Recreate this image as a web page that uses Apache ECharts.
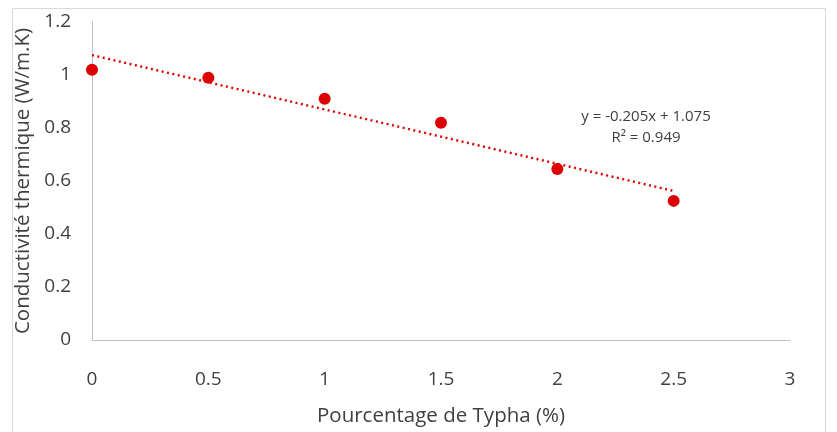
<!DOCTYPE html>
<html><head><meta charset="utf-8">
<script src="https://cdn.jsdelivr.net/npm/echarts@6/dist/echarts.min.js"></script>
<style>html,body{margin:0;padding:0;background:#fff}#c{width:837px;height:432px}</style>
</head><body><div id="c"></div>
<script>
const xValues = [0, 0.5, 1, 1.5, 2, 2.5];
const yValues = [1.02, 0.99, 0.91, 0.82, 0.645, 0.525];
const slope = -0.205;
const intercept = 1.075;
const equationText = 'y = -0.205x + 1.075';
const r2Text = 'R² = 0.949';
const xTitle = 'Pourcentage de Typha (%)';
const yTitle = 'Conductivité thermique (W/m.K)';

const pts = xValues.map((x, i) => [x, yValues[i]]);
const trend = [[xValues[0], intercept + slope * xValues[0]], [xValues[xValues.length - 1], intercept + slope * xValues[xValues.length - 1]]];
const font = 'Open Sans';
const chart = echarts.init(document.getElementById('c'));
chart.setOption({
  animation: false,
  backgroundColor: '#fff',
  graphic: [
    {type: 'rect', shape: {x: 12.5, y: 8.5, width: 813, height: 440}, style: {fill: 'none', stroke: '#d9d9d9', lineWidth: 1}},
    {type: 'text', x: 646, y: 127, style: {text: equationText + '\n' + r2Text, align: 'center', verticalAlign: 'middle', fontFamily: font, fontSize: 15, lineHeight: 21, fill: '#404040'}}
  ],
  grid: {left: 92, right: 47, top: 22, bottom: 92, containLabel: false, outerBoundsMode: 'none'},
  xAxis: {
    type: 'value', min: 0, max: 3, interval: 0.5,
    name: xTitle, nameLocation: 'middle', nameGap: 66,
    nameTextStyle: {fontFamily: font, fontSize: 20.5, color: '#404040'},
    axisLine: {show: true, onZero: false, lineStyle: {color: '#bfbfbf', width: 1}},
    axisTick: {show: false}, splitLine: {show: false},
    axisLabel: {fontFamily: font, fontSize: 19, color: '#404040', margin: 30}
  },
  yAxis: {
    type: 'value', min: 0, max: 1.2, interval: 0.2,
    name: yTitle, nameLocation: 'middle', nameGap: 53, nameRotate: 90,
    nameTextStyle: {fontFamily: font, fontSize: 20.5, color: '#404040'},
    axisLine: {show: true, lineStyle: {color: '#bfbfbf', width: 1}},
    axisTick: {show: false}, splitLine: {show: false},
    axisLabel: {fontFamily: font, fontSize: 19, color: '#404040', margin: 21}
  },
  series: [
    {type: 'line', data: trend, symbol: 'none', silent: true,
     lineStyle: {color: '#e00000', width: 2.5, type: [2, 3.5]}},
    {type: 'scatter', data: pts, symbolSize: 12, itemStyle: {color: '#dd0000', opacity: 1}}
  ]
});
</script></body></html>
